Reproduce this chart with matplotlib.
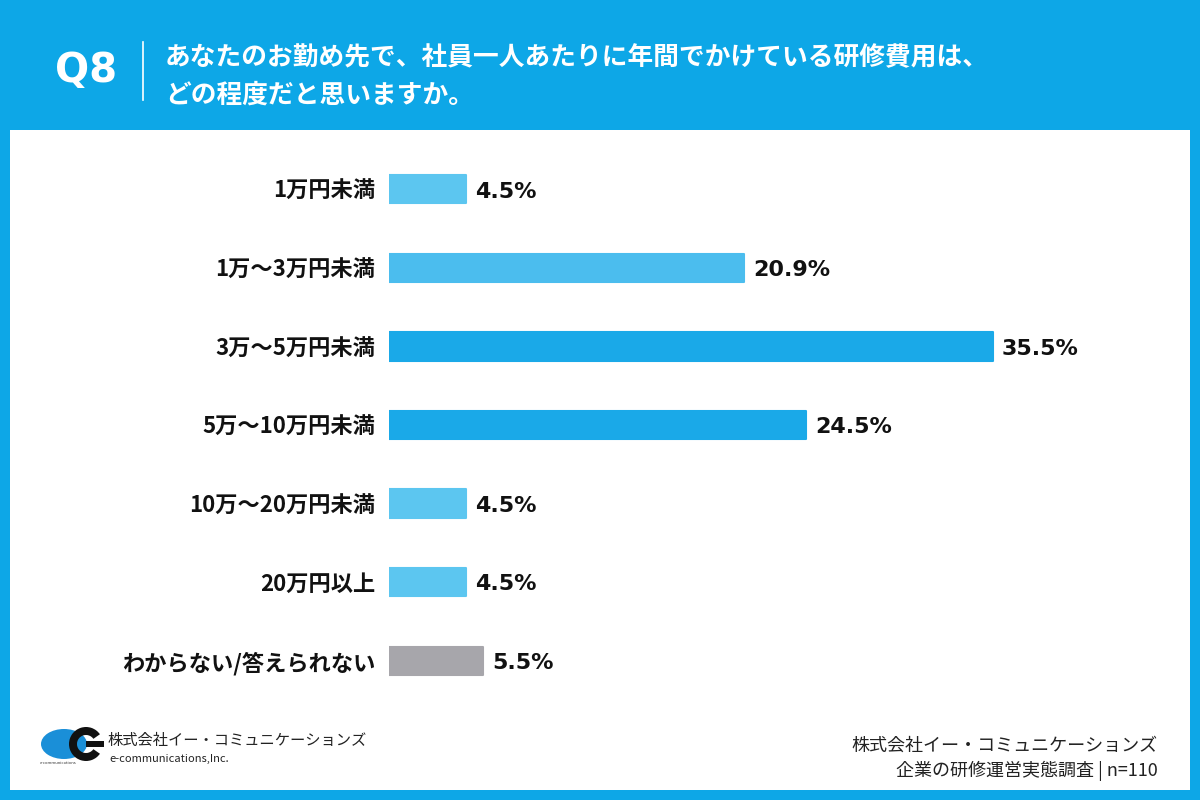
import matplotlib.pyplot as plt
from matplotlib.patches import Rectangle, Ellipse, Wedge

plt.rcParams['font.family'] = ['Noto Sans CJK JP', 'DejaVu Sans']

# データ
categories = ['1万円未満', '1万〜3万円未満', '3万〜5万円未満', '5万〜10万円未満',
              '10万〜20万円未満', '20万円以上', 'わからない/答えられない']
values = [4.5, 20.9, 35.5, 24.5, 4.5, 4.5, 5.5]
colors = ['#5CC6F0', '#4BBDEE', '#1AA9E8', '#1AA9E8', '#5CC6F0', '#5CC6F0', '#A7A6AB']

title_q = 'Q8'
title_lines = ['あなたのお勤め先で、社員一人あたりに年間でかけている研修費用は、',
               'どの程度だと思いますか。']
company = '株式会社イー・コミュニケーションズ'
company_en = 'e-communications,Inc.'
source = ['株式会社イー・コミュニケーションズ', '企業の研修運営実態調査 | n=110']

blue = '#0DA7E7'

fig = plt.figure(figsize=(12, 8), dpi=100)
fig.patch.set_facecolor(blue)

# 装飾用のピクセル座標の軸
deco = fig.add_axes([0, 0, 1, 1])
deco.set_xlim(0, 1200)
deco.set_ylim(800, 0)
deco.axis('off')
deco.add_patch(Rectangle((10, 130), 1180, 660, facecolor='white', edgecolor='none'))

# ヘッダー
deco.text(86, 71, title_q, color='white', fontsize=29, fontweight='bold',
          ha='center', va='center', family=['DejaVu Sans'])
deco.plot([143, 143], [42, 100], color='white', lw=1.2)
deco.text(165, 58, title_lines[0], color='white', fontsize=18.5, fontweight='bold',
          ha='left', va='center')
deco.text(165, 95, title_lines[1], color='white', fontsize=18.5, fontweight='bold',
          ha='left', va='center')

# ロゴ
deco.add_patch(Ellipse((64, 744), 46, 30, facecolor='#1A8FD8', edgecolor='none'))
deco.add_patch(Wedge((86, 744), 17, 35, 325, width=8, facecolor='#111111',
                     edgecolor='none'))
deco.add_patch(Rectangle((86, 741), 18, 6, facecolor='#111111', edgecolor='none'))
deco.text(40, 763, 'e-communications', fontsize=3, color='#333333', va='center')
deco.text(108, 740, company, fontsize=11, color='#222222', va='center', ha='left')
deco.text(109, 759, company_en, fontsize=8, color='#222222', va='center', ha='left')

# 出典
deco.text(1158, 746, source[0], fontsize=13, color='#222222', ha='right', va='center')
deco.text(1158, 771, source[1], fontsize=13, color='#222222', ha='right', va='center')

# 棒グラフ
ax = fig.add_axes([389 / 1200, 100 / 800, (1190 - 389) / 1200, 550 / 800])
ax.patch.set_alpha(0)
ypos = range(len(categories))
ax.barh(ypos, values, height=0.36, color=colors, edgecolor=colors,
        linewidth=1.5, joinstyle='round')
ax.set_xlim(0, 801 / 17.0)
ax.set_ylim(len(categories) - 0.5, -0.5)
for y, v in zip(ypos, values):
    ax.text(v + 0.55, y + 0.03, f'{v}%', fontsize=16, fontweight='bold', color='#111111',
            va='center', ha='left', family=['DejaVu Sans'])
ax.set_yticks(list(ypos))
ax.set_yticklabels(categories, fontsize=16, fontweight='bold', color='#111111')
ax.tick_params(axis='y', length=0, pad=10)
ax.set_xticks([])
for s in ax.spines.values():
    s.set_visible(False)

fig.savefig('out.png', dpi=100, facecolor=fig.get_facecolor())
